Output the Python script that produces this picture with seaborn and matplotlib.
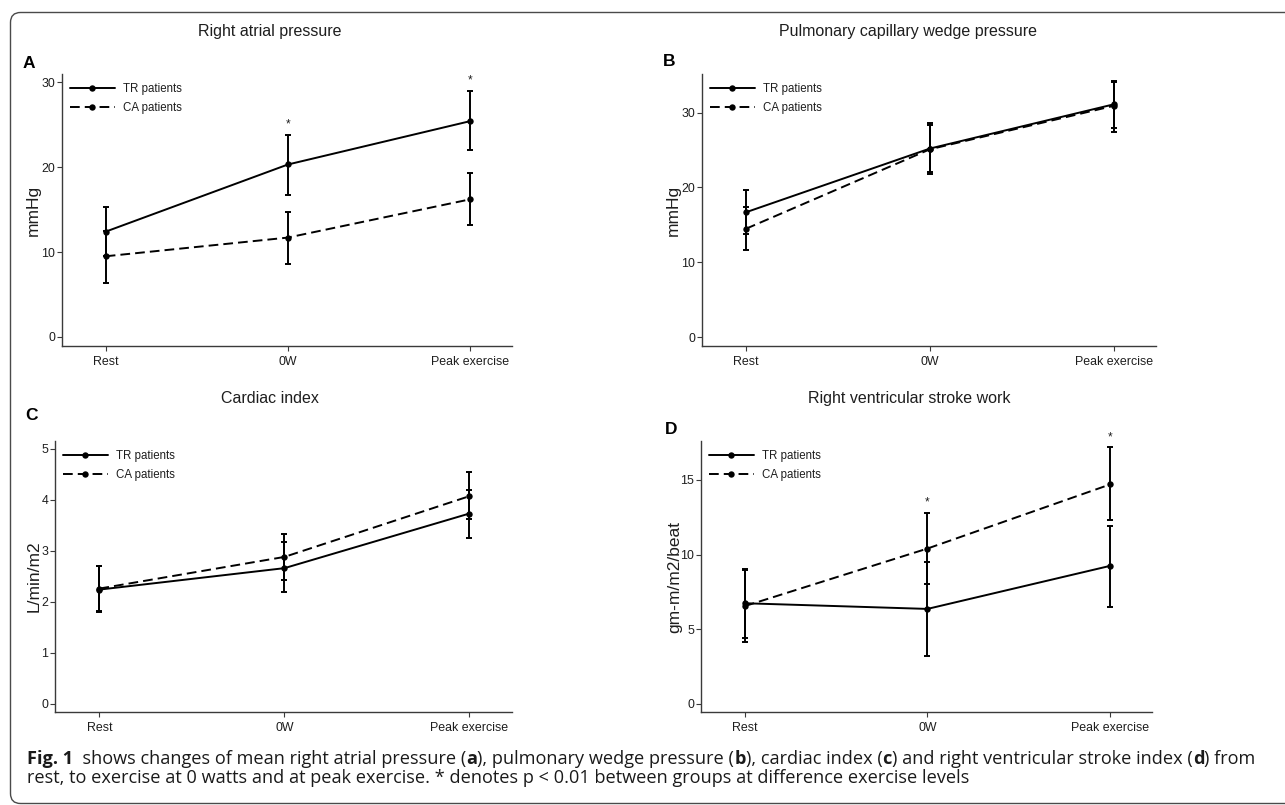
import numpy as np
import pandas as pd
import matplotlib
matplotlib.use("Agg")
import matplotlib.pyplot as plt
import seaborn as sns
from matplotlib.patches import FancyBboxPatch
from matplotlib.lines import Line2D
from matplotlib.transforms import IdentityTransform

# ---------------- data ----------------
stages = ["Rest", "0W", "Peak exercise"]
groups = ["TR patients", "CA patients"]

# A: Right atrial pressure (mmHg)
rap_tr = [12.4, 20.3, 25.4]
rap_tr_lo = [9.5, 16.7, 22.0]
rap_tr_hi = [15.3, 23.8, 29.0]
rap_ca = [9.5, 11.7, 16.2]
rap_ca_lo = [6.4, 8.6, 13.2]
rap_ca_hi = [12.5, 14.7, 19.3]
rap_sig = [1, 2]

# B: Pulmonary capillary wedge pressure (mmHg)
pcwp_tr = [16.7, 25.2, 31.1]
pcwp_tr_lo = [13.8, 22.1, 28.0]
pcwp_tr_hi = [19.6, 28.3, 34.2]
pcwp_ca = [14.5, 25.1, 30.9]
pcwp_ca_lo = [11.6, 21.8, 27.4]
pcwp_ca_hi = [17.4, 28.6, 34.1]
pcwp_sig = []

# C: Cardiac index (L/min/m2)
ci_tr = [2.24, 2.66, 3.73]
ci_tr_lo = [1.80, 2.19, 3.25]
ci_tr_hi = [2.70, 3.17, 4.20]
ci_ca = [2.26, 2.88, 4.07]
ci_ca_lo = [1.82, 2.42, 3.62]
ci_ca_hi = [2.71, 3.33, 4.55]
ci_sig = []

# D: Right ventricular stroke work (gm-m/m2/beat)
rvsw_tr = [6.74, 6.36, 9.24]
rvsw_tr_lo = [4.40, 3.23, 6.52]
rvsw_tr_hi = [9.00, 9.53, 11.94]
rvsw_ca = [6.55, 10.40, 14.69]
rvsw_ca_lo = [4.17, 8.04, 12.28]
rvsw_ca_hi = [8.97, 12.77, 17.17]
rvsw_sig = [1, 2]

titles = ["Right atrial pressure", "Pulmonary capillary wedge pressure",
          "Cardiac index", "Right ventricular stroke work"]
letters = ["A", "B", "C", "D"]
ylabels = ["mmHg", "mmHg", "L/min/m2", "gm-m/m2/beat"]
yticks_list = [[0, 10, 20, 30], [0, 10, 20, 30], [0, 1, 2, 3, 4, 5], [0, 5, 10, 15]]

# caption segments: (text, bold)
caption1 = [("Fig. 1", True), ("  shows changes of mean right atrial pressure (", False),
            ("a", True), ("), pulmonary wedge pressure (", False), ("b", True),
            ("), cardiac index (", False), ("c", True),
            (") and right ventricular stroke index (", False), ("d", True), (") from", False)]
caption2 = [("rest, to exercise at 0 watts and at peak exercise. * denotes p < 0.01 between "
             "groups at difference exercise levels", False)]

# ---------------- style ----------------
sns.set_theme(style="white")
plt.rcParams["font.family"] = ["Liberation Sans", "DejaVu Sans"]

W, H = 1285, 805
fig = plt.figure(figsize=(W / 100, H / 100), dpi=100)
fig.patch.set_facecolor("white")


def add_ax(l, r, t, b):
    return fig.add_axes([l / W, 1 - b / H, (r - l) / W, (b - t) / H])


panels = [
    dict(box=(62, 512, 74, 346), ylim=(-1.06, 30.95),
         tr=(rap_tr, rap_tr_lo, rap_tr_hi), ca=(rap_ca, rap_ca_lo, rap_ca_hi), sig=rap_sig,
         title_x=270, title_y=40, letter_xy=(23, 63), lab_x=41),
    dict(box=(702, 1156, 74, 346), ylim=(-1.16, 35.15),
         tr=(pcwp_tr, pcwp_tr_lo, pcwp_tr_hi), ca=(pcwp_ca, pcwp_ca_lo, pcwp_ca_hi), sig=pcwp_sig,
         title_x=908, title_y=40, letter_xy=(663, 62), lab_x=681),
    dict(box=(55, 512, 441, 712), ylim=(-0.157, 5.15),
         tr=(ci_tr, ci_tr_lo, ci_tr_hi), ca=(ci_ca, ci_ca_lo, ci_ca_hi), sig=ci_sig,
         title_x=270, title_y=407, letter_xy=(25, 415), lab_x=42),
    dict(box=(701, 1152, 441, 712), ylim=(-0.54, 17.6),
         tr=(rvsw_tr, rvsw_tr_lo, rvsw_tr_hi), ca=(rvsw_ca, rvsw_ca_lo, rvsw_ca_hi), sig=rvsw_sig,
         title_x=909, title_y=407, letter_xy=(665, 429), lab_x=682),
]

LW = 1.4
MS = 4.6
DASH = (5, 2.6)
AXC = "#3a3a3a"
TXC = "#1e1e1e"

for i, p in enumerate(panels):
    l, r, t, b = p["box"]
    ax = add_ax(l, r, t, b)
    x = np.arange(len(stages))
    df = pd.DataFrame({
        "stage": np.tile(x, 2),
        "value": list(p["tr"][0]) + list(p["ca"][0]),
        "group": np.repeat(groups, len(stages)),
    })
    sns.lineplot(data=df, x="stage", y="value", style="group", style_order=groups,
                 dashes={groups[0]: "", groups[1]: DASH},
                 markers={groups[0]: "o", groups[1]: "o"},
                 color="black", linewidth=LW, markersize=MS, markeredgewidth=0,
                 errorbar=None, sort=False, ax=ax, legend=False)
    for vals, lo, hi in (p["tr"], p["ca"]):
        vals = np.asarray(vals); lo = np.asarray(lo); hi = np.asarray(hi)
        ax.errorbar(x, vals, yerr=[vals - lo, hi - vals], fmt="none", ecolor="black",
                    elinewidth=LW, capsize=2.3, capthick=LW, zorder=3)
    # significance markers
    for s in p["sig"]:
        top = max(p["tr"][2][s], p["ca"][2][s])
        ax.annotate("*", xy=(s, top), xytext=(0, 7.5), textcoords="offset points",
                    ha="center", va="center", fontsize=8.5, color=TXC)

    ax.set_xlim(-0.24, 2.23)
    ax.set_ylim(*p["ylim"])
    ax.set_xticks(x, stages)
    ax.set_yticks(yticks_list[i])
    ax.set_xlabel("")
    ax.set_ylabel(ylabels[i], fontsize=12.5, color=TXC)
    ax.yaxis.set_label_coords((p["lab_x"] - l) / (r - l), 0.5)
    for side in ["top", "right"]:
        ax.spines[side].set_visible(False)
    for side in ["left", "bottom"]:
        ax.spines[side].set_color(AXC)
        ax.spines[side].set_linewidth(1.0)
    ax.tick_params(axis="both", direction="out", length=3.5, width=0.8, color=AXC,
                   labelsize=8.9, labelcolor=TXC, left=True, bottom=True)
    ax.tick_params(axis="y", pad=1.5)
    ax.tick_params(axis="x", pad=3.5)
    ax.grid(False)
    ax.set_facecolor("none")

    ax.set_title(titles[i], fontsize=11.5, color=TXC,
                 x=(p["title_x"] - l) / (r - l), y=(b - p["title_y"]) / (b - t), va="center")

    fig.text(p["letter_xy"][0] / W, 1 - p["letter_xy"][1] / H, letters[i],
             fontsize=12.5, fontweight="bold", color="black", ha="left", va="center")

    handles = [
        Line2D([], [], color="black", lw=LW, marker="o", ms=MS, mew=0),
        Line2D([], [], color="black", lw=LW, marker="o", ms=MS, mew=0, dashes=DASH),
    ]
    ax.legend(handles, groups, loc="upper left",
              bbox_to_anchor=(8.0 / (r - l), (b - (t + 9)) / (b - t)),
              frameon=False, fontsize=8.3, handlelength=3.9, handletextpad=0.7,
              labelspacing=0.62, borderpad=0, borderaxespad=0, labelcolor=TXC)

# caption, drawn piecewise and fitted to the reference width
renderer = fig.canvas.get_renderer()
CAP_FONT = ["Open Sans", "DejaVu Sans"]


def draw_line(segs, x0, ybase, fs):
    xpos = x0
    for txt, bold in segs:
        tt = fig.text(xpos / W, 1 - ybase / H, txt, fontsize=fs, family=CAP_FONT,
                      fontweight="bold" if bold else "normal", color="#1a1a1a",
                      ha="left", va="baseline")
        xpos += tt.get_window_extent(renderer).width
    return xpos - x0


probe = []
width = 0
for txt, bold in caption1:
    tt = fig.text(0, 0, txt, fontsize=11, family=CAP_FONT,
                  fontweight="bold" if bold else "normal")
    width += tt.get_window_extent(renderer).width
    probe.append(tt)
for tt in probe:
    tt.remove()
fs = 11 * (1235.0 / width)
draw_line(caption1, 27, 763.5, fs)
draw_line(caption2, 27, 782.5, fs)

# rounded frame
frame = FancyBboxPatch((10.5, 1.5), 1300, 791, boxstyle="round,pad=0,rounding_size=10",
                       transform=IdentityTransform(), fill=False, edgecolor="#4a4a4a",
                       linewidth=1.0)
fig.add_artist(frame)

fig.savefig("out.png", dpi=100, facecolor="white")
